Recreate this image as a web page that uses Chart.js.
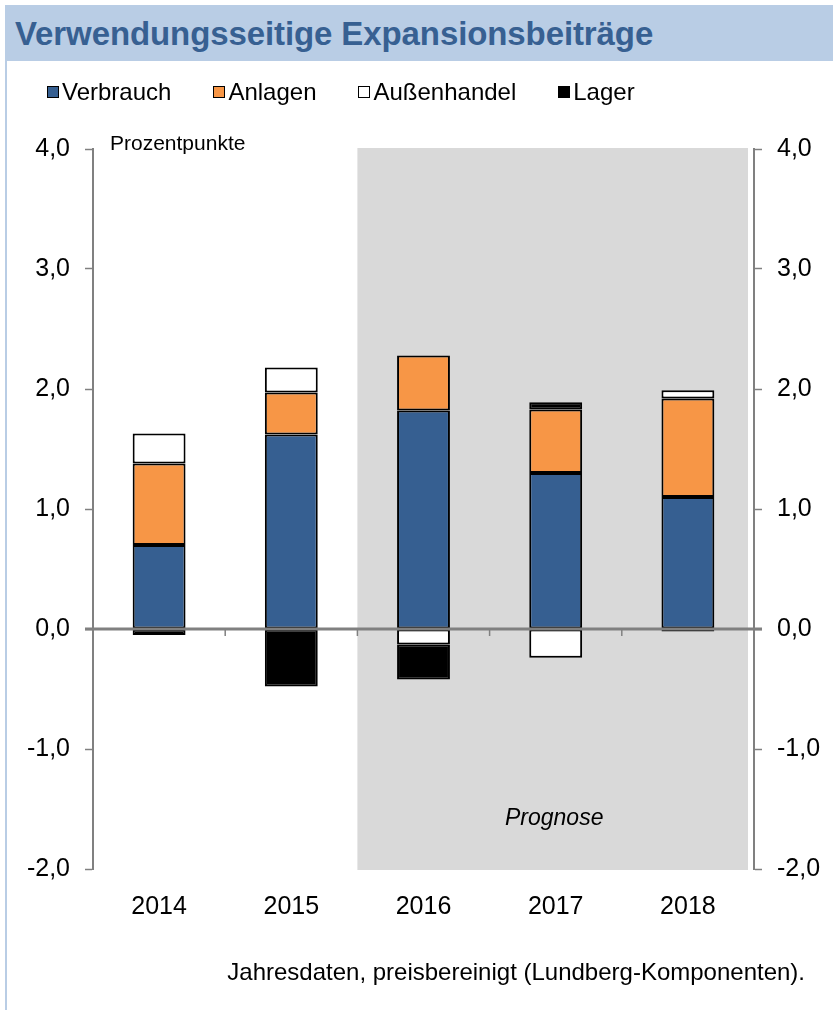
<html lang="de">
<head>
  <meta charset="UTF-8">
  <title>Verwendungsseitige Expansionsbeiträge</title>
  <style>
    body { margin: 0; background: #fff; font-family: "Liberation Sans", Arial, sans-serif; }
    #page { position: relative; width: 833px; height: 1010px; overflow: hidden; }
    #titlebar { position: absolute; left: 5px; top: 5px; right: 0; height: 56px; background: #b9cde5; }
    #titlebar span { position: absolute; left: 10px; top: 10px; font-size: 33px; font-weight: bold; color: #376092; letter-spacing: -0.1px; }
    #leftline { position: absolute; left: 5px; top: 61px; width: 2px; bottom: 0; background: #b9cde5; }
    #legend { position: absolute; top: 78px; left: 47px; font-size: 24px; color: #000; white-space: nowrap; }
    #legend .item { display: inline-block; margin-right: 42px; }
    #legend .box { display: inline-block; width: 10px; height: 10px; border: 1.5px solid #000; margin-right: 3px; vertical-align: 2px; }
    #unit { position: absolute; left: 110px; top: 131px; font-size: 21px; color: #000; }
    #prognose { position: absolute; left: 505px; top: 804px; font-size: 23px; font-style: italic; color: #000; }
    #footer { position: absolute; right: 28px; top: 958px; font-size: 24px; color: #000; }
    #chartbox { position: absolute; left: 0; top: 60px; width: 833px; height: 950px; }
  </style>
</head>
<body>
<div id="page">
  <div id="titlebar"><span>Verwendungsseitige Expansionsbeiträge</span></div>
  <div id="leftline"></div>
  <div id="chartbox"><canvas id="chart"></canvas></div>
  <div id="legend"></div>
  <div id="unit">Prozentpunkte</div>
  <div id="prognose">Prognose</div>
  <div id="footer">Jahresdaten, preisbereinigt (Lundberg-Komponenten).</div>
</div>
<script src="https://cdn.jsdelivr.net/npm/chart.js@4.4.1/dist/chart.umd.min.js"></script>
<script>
  const years = ['2014', '2015', '2016', '2017', '2018'];
  const seriesNames = ['Verbrauch', 'Anlagen', 'Außenhandel', 'Lager'];
  const verbrauch = [0.70, 1.62, 1.82, 1.30, 1.10];
  const anlagen = [0.68, 0.35, 0.46, 0.53, 0.82];
  const aussenhandel = [0.25, 0.21, -0.13, -0.24, 0.07];
  const lager = [-0.05, -0.48, -0.29, 0.06, -0.02];
  const yTickLabels = ['-2,0', '-1,0', '0,0', '1,0', '2,0', '3,0', '4,0'];
  const seriesColors = ['#365f91', '#f79646', '#ffffff', '#000000'];
  const forecastFrom = 2; // index of first forecast year

  // legend in html
  const legendEl = document.getElementById('legend');
  seriesNames.forEach((name, i) => {
    legendEl.innerHTML += '<span class="item"><span class="box" style="background:' + seriesColors[i] + '"></span>' + name + '</span>';
  });

  const grey = '#808080';

  // grey band for the forecast years, zero line and small category ticks
  const extras = {
    id: 'extras',
    beforeDraw(chart) {
      const ctx = chart.ctx, area = chart.chartArea, x = chart.scales.x;
      const x0 = x.getPixelForValue(forecastFrom - 0.5);
      ctx.save();
      ctx.fillStyle = '#d9d9d9';
      ctx.fillRect(x0, area.top - 1, area.right - 6 - x0, area.bottom - area.top + 2);
      ctx.restore();
    },
    afterDatasetsDraw(chart) {
      const ctx = chart.ctx, area = chart.chartArea, x = chart.scales.x;
      const y0 = chart.scales.y.getPixelForValue(0);
      ctx.save();
      ctx.strokeStyle = grey;
      ctx.lineWidth = 1.5;
      for (let i = 1; i < years.length; i++) {
        const px = x.getPixelForValue(i - 0.5);
        ctx.beginPath();
        ctx.moveTo(px, y0);
        ctx.lineTo(px, y0 + 7);
        ctx.stroke();
      }
      ctx.lineWidth = 3;
      ctx.beginPath();
      ctx.moveTo(area.left - 8, y0);
      ctx.lineTo(area.right + 8, y0);
      ctx.stroke();
      ctx.restore();
    }
  };

  const tickFont = { family: '"Liberation Sans", Arial, sans-serif', size: 25 };

  function yAxis(pos, width) {
    return {
      position: pos,
      min: -2,
      max: 4,
      ticks: {
        stepSize: 1,
        color: '#000',
        font: tickFont,
        padding: 15,
        callback: (v, i) => yTickLabels[i]
      },
      grid: { drawOnChartArea: false, drawTicks: true, tickLength: 8, tickColor: grey, tickWidth: 1.5, color: grey },
      border: { display: true, color: grey, width: 2 },
      afterFit: (s) => { s.width = width; }
    };
  }

  new Chart(document.getElementById('chart'), {
    type: 'bar',
    data: {
      labels: years,
      datasets: [verbrauch, anlagen, aussenhandel, lager].map((d, i) => ({
        label: seriesNames[i],
        data: d,
        backgroundColor: seriesColors[i],
        borderColor: '#000',
        borderWidth: 2,
        borderSkipped: false,
        categoryPercentage: 1,
        barPercentage: 0.4
      }))
    },
    options: {
      responsive: true,
      maintainAspectRatio: false,
      animation: false,
      layout: { padding: { top: 89, bottom: 81, left: 0, right: 0 } },
      plugins: { legend: { display: false }, tooltip: { enabled: false } },
      scales: {
        x: {
          stacked: true,
          grid: { display: false, drawTicks: false },
          border: { display: false },
          ticks: { color: '#000', font: { family: '"Liberation Sans", Arial, sans-serif', size: 25 }, padding: 23 },
          afterFit: (s) => { s.height = 60; }
        },
        y: Object.assign(yAxis('left', 93), { stacked: true }),
        y2: yAxis('right', 79)
      }
    },
    plugins: [extras]
  });
</script>
</body>
</html>
